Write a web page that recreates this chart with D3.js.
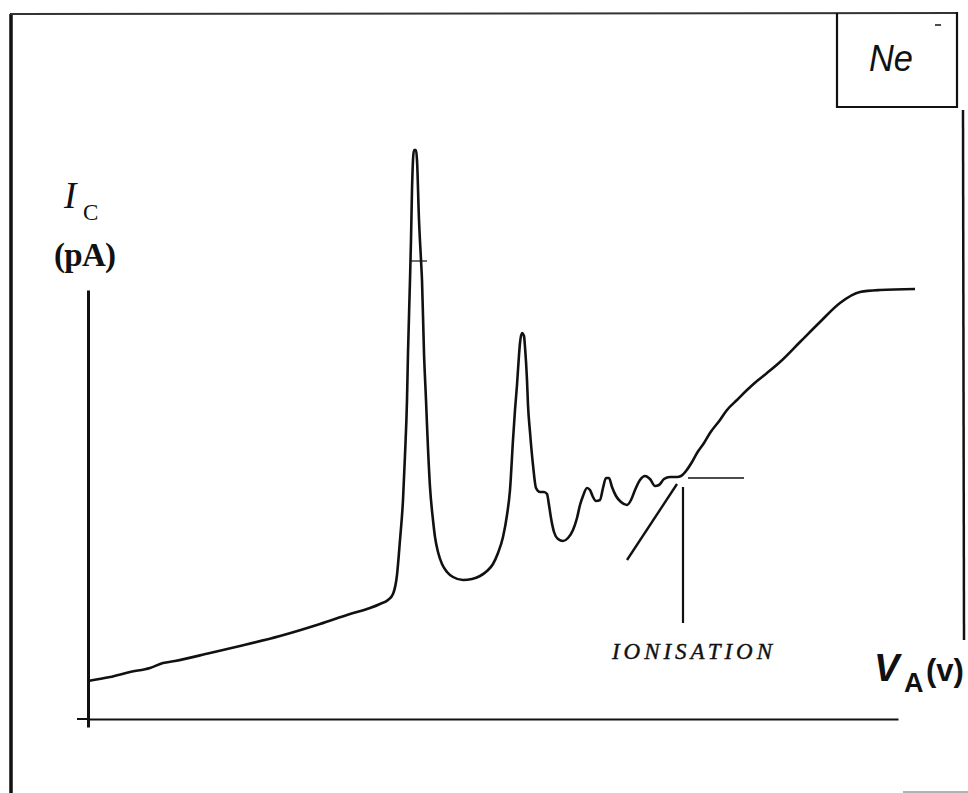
<!DOCTYPE html>
<html>
<head>
<meta charset="utf-8">
<script src="https://cdn.jsdelivr.net/npm/d3@7"></script>
<style>
  html, body { margin: 0; padding: 0; background: #fff; }
  svg { display: block; }
</style>
</head>
<body>
<svg id="chart" width="968" height="793"></svg>
<script>
// ---- Data (arbitrary units) ----
const voltage = [0, 2.2, 4.2, 6.2, 7.5, 8.7, 12.2, 15.2, 19.2, 23.2, 26.2, 28.2, 29.2, 30.0, 30.5, 30.9, 31.2, 31.5, 31.7, 31.9, 32.0, 32.2, 32.3, 32.4, 32.5, 32.6, 32.8, 32.9, 33.1, 33.3, 33.4, 33.6, 33.8, 33.9, 34.2, 34.5, 34.7, 35.0, 35.4, 35.9, 36.5, 37.5, 38.4, 39.2, 39.9, 40.5, 41.0, 41.5, 41.9, 42.2, 42.5, 42.7, 42.9, 43.1, 43.2, 43.4, 43.6, 43.7, 43.9, 44.0, 44.2, 44.5, 44.8, 45.2, 45.6, 45.9, 46.1, 46.3, 46.6, 47.0, 47.5, 48.0, 48.5, 48.9, 49.2, 49.5, 49.9, 50.2, 50.5, 50.8, 51.2, 51.5, 51.8, 52.1, 52.4, 52.8, 53.3, 53.9, 54.3, 54.7, 55.2, 55.7, 56.2, 56.7, 57.1, 57.6, 58.2, 58.9, 59.3, 59.8, 60.4, 60.9, 61.6, 62.2, 63.2, 63.9, 64.9, 65.9, 66.9, 67.9, 69.2, 71.2, 73.2, 75.2, 77.2, 79.2, 82.7];
const current = [3.8, 4.2, 4.7, 5.1, 5.6, 5.8, 6.6, 7.3, 8.3, 9.5, 10.5, 11.1, 11.5, 11.9, 12.5, 14.4, 17.9, 21.9, 26.4, 31.9, 36.6, 43.9, 47.9, 52.9, 55.9, 56.9, 56.9, 55.9, 49.9, 45.9, 43.9, 36.6, 31.9, 29.4, 23.2, 19.9, 18.2, 16.7, 15.5, 14.7, 14.2, 13.9, 14.0, 14.3, 14.8, 15.5, 16.6, 18.2, 20.4, 22.9, 27.9, 30.9, 33.4, 36.4, 37.6, 38.6, 38.3, 37.2, 33.9, 31.4, 28.7, 25.4, 23.1, 22.7, 22.7, 22.5, 21.4, 20.1, 18.7, 18.0, 17.8, 18.1, 18.9, 20.1, 21.4, 22.3, 23.1, 22.9, 22.2, 21.8, 21.9, 23.1, 24.1, 24.1, 23.2, 22.3, 21.7, 21.4, 21.9, 22.9, 23.9, 24.3, 24.0, 23.3, 23.4, 24.0, 24.2, 24.2, 24.3, 24.8, 25.7, 26.6, 27.6, 28.6, 29.9, 30.9, 31.9, 32.9, 33.8, 34.6, 35.7, 37.7, 39.7, 41.6, 42.7, 42.9, 43.0];

// Ionisation construction (tangent, level and marker)
const tangentV = [53.9, 58.9];
const tangentI = [15.9, 23.5];
const levelV = [60.0, 65.6];
const levelI = 24.1;
const ionisationV = 59.5;
const ionisationI = [23.2, 9.6];
const peakMarkV = [32.2, 33.9];
const peakMarkI = 45.8;

// Axis extents (data units)
const xDomain = [0, 81];
const yDomain = [0, 57.5];
const yAxisExtent = [-0.8, 42.9];
const xAxisLeftExt = -1.1;

// Labels
const title = "Ne";
const yLabel = "I";
const ySub = "C";
const yUnit = "(pA)";
const xLabel = "V";
const xSub = "A";
const xUnit = "(v)";
const ionLabel = "IONISATION";

// ---- Drawing ----
const svg = d3.select("#chart");
const x = d3.scaleLinear().domain(xDomain).range([88, 898]);
const y = d3.scaleLinear().domain(yDomain).range([719, 144]);

const ink = "#111";

// outer frame (scan border)
const frame = svg.append("g").attr("stroke", ink).attr("fill", "none");
frame.append("line").attr("x1", 11).attr("y1", 14).attr("x2", 11).attr("y2", 793).attr("stroke-width", 3.5);
frame.append("line").attr("x1", 10).attr("y1", 14).attr("x2", 958).attr("y2", 13).attr("stroke-width", 2).attr("stroke", "#333");
frame.append("line").attr("x1", 963).attr("y1", 110).attr("x2", 964).attr("y2", 640).attr("stroke-width", 2.5);
frame.append("line").attr("x1", 903).attr("y1", 792).attr("x2", 968).attr("y2", 792).attr("stroke-width", 1.5).attr("stroke", "#999");

// Ne box
frame.append("path")
  .attr("d", "M837,13 L837,107 L957,107 L957,12")
  .attr("stroke-width", 2.2);
frame.append("line").attr("x1", 935).attr("y1", 25).attr("x2", 941).attr("y2", 25).attr("stroke-width", 1.5);
svg.append("text").attr("x", 869).attr("y", 71)
  .attr("font-family", "Liberation Sans, Arial, sans-serif").attr("font-style", "italic")
  .attr("font-size", 36).attr("fill", ink)
  .attr("textLength", 44).attr("lengthAdjust", "spacingAndGlyphs")
  .text(title);

// X axis (no ticks)
const xAxis = d3.axisBottom(x).tickValues([]).tickSizeOuter(0);
const gx = svg.append("g").attr("transform", `translate(0,${y(0)})`).call(xAxis);
gx.select(".domain").attr("stroke", ink).attr("stroke-width", 2);
gx.append("line").attr("x1", x(xAxisLeftExt)).attr("x2", x(0)).attr("stroke", ink).attr("stroke-width", 2);

// Y axis line
const yAxis = d3.axisLeft(d3.scaleLinear().domain(yAxisExtent).range([y(yAxisExtent[0]), y(yAxisExtent[1])]))
  .tickValues([]).tickSizeOuter(0);
const gy = svg.append("g").attr("transform", `translate(${x(0)},0)`).call(yAxis);
gy.select(".domain").attr("stroke", ink).attr("stroke-width", 3);

// Curve
const line = d3.line()
  .x((d, i) => x(voltage[i]))
  .y((d, i) => y(current[i]))
  .curve(d3.curveMonotoneX);
svg.append("path")
  .datum(voltage)
  .attr("d", line)
  .attr("fill", "none")
  .attr("stroke", ink)
  .attr("stroke-width", 2.6)
  .attr("stroke-linejoin", "round");

// Peak marker
svg.append("line")
  .attr("x1", x(peakMarkV[0])).attr("x2", x(peakMarkV[1]))
  .attr("y1", y(peakMarkI)).attr("y2", y(peakMarkI))
  .attr("stroke", ink).attr("stroke-width", 1.2);

// Ionisation construction
svg.append("line")
  .attr("x1", x(tangentV[0])).attr("y1", y(tangentI[0]))
  .attr("x2", x(tangentV[1])).attr("y2", y(tangentI[1]))
  .attr("stroke", ink).attr("stroke-width", 2.4);
svg.append("line")
  .attr("x1", x(levelV[0])).attr("y1", y(levelI))
  .attr("x2", x(levelV[1])).attr("y2", y(levelI))
  .attr("stroke", ink).attr("stroke-width", 1.6);
svg.append("line")
  .attr("x1", x(ionisationV)).attr("y1", y(ionisationI[0]))
  .attr("x2", x(ionisationV)).attr("y2", y(ionisationI[1]))
  .attr("stroke", ink).attr("stroke-width", 2.2);

const serif = "Liberation Serif, Times New Roman, serif";
svg.append("text").attr("x", 612).attr("y", 659)
  .attr("font-family", serif).attr("font-style", "italic")
  .attr("font-size", 23).attr("fill", ink)
  .attr("stroke", ink).attr("stroke-width", 0.4)
  .attr("textLength", 160).attr("lengthAdjust", "spacing")
  .text(ionLabel);

// Y label
svg.append("text").attr("x", 64).attr("y", 208)
  .attr("font-family", serif).attr("font-style", "italic").attr("font-size", 37).attr("fill", ink)
  .text(yLabel);
svg.append("text").attr("x", 83).attr("y", 220)
  .attr("font-family", serif).attr("font-size", 23).attr("fill", ink)
  .text(ySub);
svg.append("text").attr("x", 54).attr("y", 266)
  .attr("font-family", serif).attr("font-weight", "bold").attr("font-size", 33).attr("fill", ink)
  .attr("textLength", 62).attr("lengthAdjust", "spacing")
  .text(yUnit);

// X label (natural widths, small gaps)
const sans = "Liberation Sans, Arial, sans-serif";
svg.append("text").attr("x", 874).attr("y", 681)
  .attr("font-family", sans).attr("font-style", "italic").attr("font-weight", "bold")
  .attr("font-size", 38).attr("fill", ink)
  .text(xLabel);
svg.append("text").attr("x", 904).attr("y", 692)
  .attr("font-family", sans).attr("font-weight", "bold")
  .attr("font-size", 27).attr("fill", ink)
  .text(xSub);
svg.append("text").attr("x", 926).attr("y", 681)
  .attr("font-family", sans).attr("font-weight", "bold")
  .attr("font-size", 31).attr("fill", ink)
  .text(xUnit);
</script>
</body>
</html>
